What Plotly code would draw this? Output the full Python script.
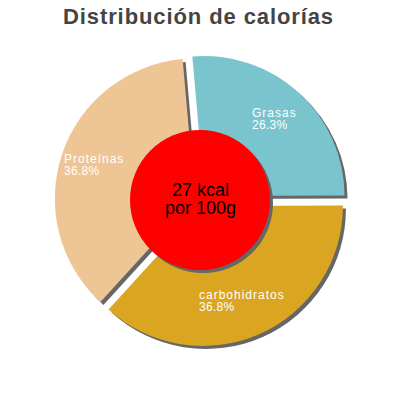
'''Distribución de calorías: exploded pie with drop shadow and a red centre badge'''

import math
import plotly.graph_objects as go

# Values
labels = ['Grasas', 'carbohidratos', 'Proteínas']
percents = [26.3, 36.8, 36.8]
colors = ['#7ac4ce', '#daa520', '#eec594']
kcal = 27
title_text = 'Distribución de calorías'

W = H = 400
cx, cy = 200.5, 200.5   # pie centre in px (from top-left)
R = 140                 # pie radius in px
pull_px = 6
shadow_px = 3
start = -5              # first slice starts a bit left of 12 o'clock
badge_r = 70            # red centre circle radius, px

pull = pull_px / R
half = R * (1 + pull)   # plotly shrinks the radius to make room for the pull


def pie_domain(dx=0, dy=0):
    '''Paper domain for a pie centred on (cx, cy) shifted by dx, dy px'''
    x = cx + dx
    y = H - (cy + dy)
    return dict(x=[(x - half) / W, (x + half) / W],
                y=[(y - half) / H, (y + half) / H])


fig = go.Figure()

# grey shadow pie first, the coloured one on top of it
for dom, cols in [(pie_domain(shadow_px, shadow_px), ['#666666'] * len(labels)),
                  (pie_domain(), colors)]:
    fig.add_trace(go.Pie(labels=labels, values=percents, sort=False,
                         direction='clockwise', rotation=start,
                         pull=[pull] * len(labels), domain=dom,
                         marker=dict(colors=cols, line=dict(width=0)),
                         textinfo='none', hoverinfo='skip', showlegend=False))

# slice labels: two left-aligned lines placed along each slice's mid angle
# (one annotation per line so the line spacing stays tight like the original)
total = sum(percents)
r_lab = 0.786 * R
cum = 0
for name, pct in zip(labels, percents):
    mid = math.radians(start + (cum + pct / 2) / total * 360)
    cum += pct
    lx = cx + r_lab * math.sin(mid)
    ly = cy - r_lab * math.cos(mid)
    pct_txt = f'{pct:.1f}%'
    left = lx - 3.4 * max(len(name), len(pct_txt)) - 3
    lines = [(f'<span style="letter-spacing:1px">{name}</span>', -6.1),
             (f'<span style="letter-spacing:0.3px">{pct_txt}</span>', 6.1)]
    for txt, dy in lines:
        fig.add_annotation(x=left / W, y=1 - (ly + dy) / H, text=txt,
                           xref='paper', yref='paper', height=12, borderpad=0,
                           xanchor='left', yanchor='middle', showarrow=False,
                           font=dict(family='Liberation Sans', size=12,
                                     color='white'))

# red centre badge with its own shadow
for off, col in [(shadow_px, '#666666'), (0, '#ff0000')]:
    fig.add_shape(type='circle', xref='paper', yref='paper',
                  x0=(200 - badge_r + off) / W, x1=(200 + badge_r + off) / W,
                  y0=1 - (200 + badge_r + off) / H, y1=1 - (200 - badge_r + off) / H,
                  fillcolor=col, line_width=0, layer='above')

for txt, y_px, h_px in [(f'{kcal} kcal', 189.7, 15), ('por 100g', 207.5, 20)]:
    fig.add_annotation(x=0.5, y=1 - y_px / H, text=txt,
                       xref='paper', yref='paper', showarrow=False,
                       height=h_px, borderpad=0,
                       xanchor='center', yanchor='middle',
                       font=dict(family='Liberation Sans', size=18, color='black'))

# title
fig.add_annotation(x=198 / W, y=1 - 16 / H,
                   text=f'<span style="letter-spacing:0.9px"><b>{title_text}</b></span>',
                   xref='paper', yref='paper', showarrow=False,
                   xanchor='center', yanchor='middle',
                   font=dict(family='Liberation Sans', size=22, color='#444444'))

fig.update_layout(width=W, height=H, margin=dict(l=0, r=0, t=0, b=0),
                  paper_bgcolor='white', plot_bgcolor='white')

# drop the browser's default 8px body margin so the figure sits at 0,0
fig.write_html("out.html", config={'displayModeBar': False},
               post_script="document.body.style.margin = '0';")
